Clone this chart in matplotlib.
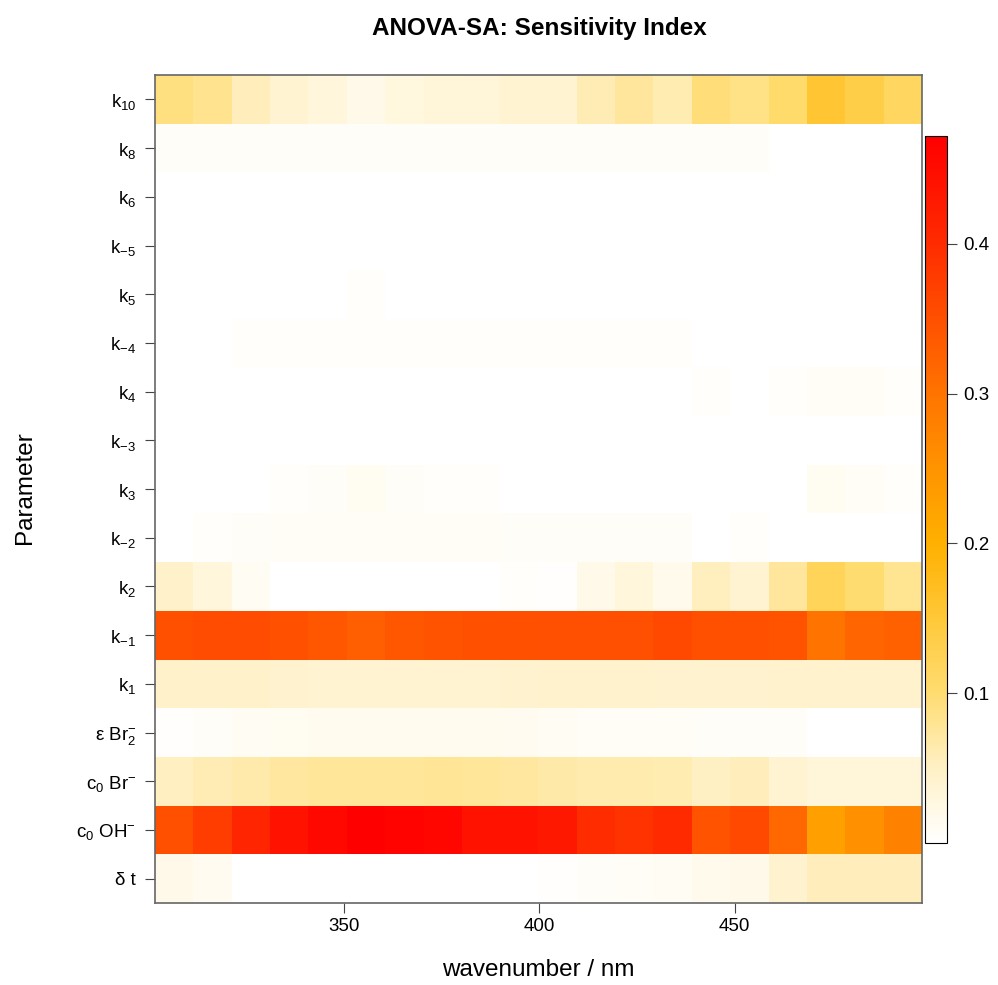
import numpy as np
import matplotlib
matplotlib.use("Agg")
import matplotlib.pyplot as plt
from matplotlib.colors import LinearSegmentedColormap

plt.rcParams['font.family'] = ['Liberation Sans', 'DejaVu Sans']
plt.rcParams['mathtext.fontset'] = 'custom'
plt.rcParams['mathtext.rm'] = 'Liberation Sans'
plt.rcParams['mathtext.it'] = 'Liberation Sans:italic'

# wavelengths (column centres, nm)
wavelengths = [306.6, 316.4, 326.2, 336.0, 345.8, 355.7, 365.5, 375.3, 385.1, 394.9,
               404.7, 414.5, 424.3, 434.1, 443.9, 453.8, 463.6, 473.4, 483.2, 493.0]

# parameter labels, bottom to top
params = [r'δ t', r'$\mathregular{c_0\ OH^{-}}$', r'$\mathregular{c_0\ Br^{-}}$',
          r'ε $\mathregular{Br_2^{-}}$', r'$\mathregular{k_1}$', r'$\mathregular{k_{-1}}$',
          r'$\mathregular{k_2}$', r'$\mathregular{k_{-2}}$', r'$\mathregular{k_3}$',
          r'$\mathregular{k_{-3}}$', r'$\mathregular{k_4}$', r'$\mathregular{k_{-4}}$',
          r'$\mathregular{k_5}$', r'$\mathregular{k_{-5}}$', r'$\mathregular{k_6}$',
          r'$\mathregular{k_8}$', r'$\mathregular{k_{10}}$']

# sensitivity index per parameter (one value per wavelength)
si_dt   = [0.020, 0.014, 0, 0, 0, 0, 0, 0, 0, 0, 0.002, 0.006, 0.008, 0.010, 0.018, 0.020, 0.042, 0.056, 0.056, 0.056]
si_c0oh = [0.350, 0.375, 0.410, 0.440, 0.458, 0.472, 0.465, 0.460, 0.442, 0.440, 0.432, 0.400, 0.390, 0.402, 0.345, 0.358, 0.318, 0.230, 0.255, 0.280]
si_c0br = [0.052, 0.060, 0.066, 0.072, 0.076, 0.076, 0.076, 0.078, 0.076, 0.072, 0.068, 0.064, 0.064, 0.062, 0.050, 0.056, 0.040, 0.035, 0.035, 0.035]
si_ebr2 = [0.002, 0.006, 0.010, 0.012, 0.016, 0.016, 0.016, 0.016, 0.016, 0.014, 0.010, 0.008, 0.008, 0.008, 0.006, 0.006, 0.006, 0, 0, 0]
si_k1   = [0.045, 0.045, 0.045, 0.042, 0.040, 0.040, 0.040, 0.040, 0.040, 0.042, 0.044, 0.044, 0.044, 0.042, 0.042, 0.042, 0.044, 0.044, 0.044, 0.044]
si_km1  = [0.350, 0.355, 0.355, 0.350, 0.340, 0.330, 0.340, 0.345, 0.350, 0.350, 0.352, 0.352, 0.352, 0.360, 0.350, 0.350, 0.345, 0.300, 0.320, 0.325]
si_k2   = [0.045, 0.030, 0.010, 0, 0, 0, 0, 0, 0, 0.004, 0.003, 0.020, 0.030, 0.018, 0.055, 0.040, 0.075, 0.120, 0.100, 0.080]
si_km2  = [0, 0.005, 0.006, 0.008, 0.008, 0.008, 0.008, 0.008, 0.008, 0.006, 0.006, 0.006, 0.006, 0.006, 0, 0.004, 0, 0, 0, 0]
si_k3   = [0, 0, 0, 0.004, 0.007, 0.012, 0.007, 0.005, 0.005, 0, 0, 0, 0, 0, 0, 0, 0, 0.012, 0.008, 0.005]
si_km3  = [0, 0, 0, 0, 0, 0, 0, 0, 0, 0, 0, 0, 0, 0, 0, 0, 0, 0, 0, 0]
si_k4   = [0, 0, 0, 0, 0, 0, 0, 0, 0, 0, 0, 0, 0, 0, 0.004, 0, 0.004, 0.008, 0.008, 0.005]
si_km4  = [0, 0, 0.005, 0.005, 0.005, 0.005, 0.005, 0.005, 0.005, 0.005, 0.005, 0.005, 0.005, 0.005, 0, 0, 0, 0, 0, 0]
si_k5   = [0, 0, 0, 0, 0, 0.004, 0, 0, 0, 0, 0, 0, 0, 0, 0, 0, 0, 0, 0, 0]
si_km5  = [0, 0, 0, 0, 0, 0, 0, 0, 0, 0, 0, 0, 0, 0, 0, 0, 0, 0, 0, 0]
si_k6   = [0, 0, 0, 0, 0, 0, 0, 0, 0, 0, 0, 0, 0, 0, 0, 0, 0, 0, 0, 0]
si_k8   = [0.006, 0.006, 0.006, 0.006, 0.006, 0.006, 0.006, 0.006, 0.006, 0.006, 0.006, 0.006, 0.006, 0.006, 0.006, 0.006, 0, 0, 0, 0]
si_k10  = [0.092, 0.082, 0.056, 0.040, 0.030, 0.020, 0.028, 0.032, 0.035, 0.040, 0.040, 0.060, 0.075, 0.062, 0.095, 0.088, 0.105, 0.155, 0.135, 0.115]

cbar_ticks = [0.1, 0.2, 0.3, 0.4]

Z = np.array([si_dt, si_c0oh, si_c0br, si_ebr2, si_k1, si_km1, si_k2, si_km2, si_k3,
              si_km3, si_k4, si_km4, si_k5, si_km5, si_k6, si_k8, si_k10])
zmin, zmax = Z.min(), Z.max()

# white -> yellow -> orange -> red
anchor_vals = [0.0, 0.05, 0.1, 0.15, 0.2, 0.25, 0.3, 0.35, 0.4, zmax]
anchor_cols = ['#FFFFFF', '#FFF0C4', '#FFDC70', '#FFC838', '#FFB000', '#FF9400',
               '#FF7400', '#FF5000', '#FF2C00', '#FF0000']
cmap = LinearSegmentedColormap.from_list(
    'sens', list(zip([v / zmax for v in anchor_vals], anchor_cols)), N=256)

wl = np.array(wavelengths)
mid = (wl[:-1] + wl[1:]) / 2
xedges = np.concatenate([[wl[0] - (mid[0] - wl[0])], mid, [wl[-1] + (wl[-1] - mid[-1])]])
yedges = np.arange(len(params) + 1) - 0.5

fig = plt.figure(figsize=(9.98, 9.85), dpi=100)
ax = fig.add_axes([0.1553, 0.0832, 0.7685, 0.8406])
mesh = ax.pcolormesh(xedges, yedges, Z, cmap=cmap, vmin=zmin, vmax=zmax)
ax.set_xlim(xedges[0], xedges[-1])
ax.set_ylim(yedges[0], yedges[-1])

ax.set_xticks([350, 400, 450])
ax.set_yticks(np.arange(len(params)))
ax.set_yticklabels(params)
ax.tick_params(axis='both', direction='out', length=7.5, width=0.8, color='#444444',
               labelsize=13.5)
ax.tick_params(axis='y', pad=6)
ax.tick_params(axis='x', pad=3)
for s in ax.spines.values():
    s.set_color('#666666')
    s.set_linewidth(1.2)

cax = fig.add_axes([0.9269, 0.1442, 0.0220, 0.7177])
cb = fig.colorbar(mesh, cax=cax, ticks=cbar_ticks)
cb.outline.set_edgecolor('black')
cb.outline.set_linewidth(0.8)
cax.tick_params(direction='out', length=7, width=0.8, color='#444444', labelsize=13.5, pad=5)
cax.set_yticklabels(['%.1f' % t for t in cbar_ticks])

fig.text(539 / 998, 1 - 28 / 985, 'ANOVA-SA: Sensitivity Index', ha='center', va='center',
         fontsize=17.5, fontweight='bold')
fig.text(538 / 998, 1 - 970 / 985, 'wavenumber / nm', ha='center', va='center', fontsize=17.5)
fig.text(25 / 998, 1 - 488 / 985, 'Parameter', ha='center', va='center', rotation=90,
         fontsize=17.5)

fig.savefig('out.png', dpi=100)
